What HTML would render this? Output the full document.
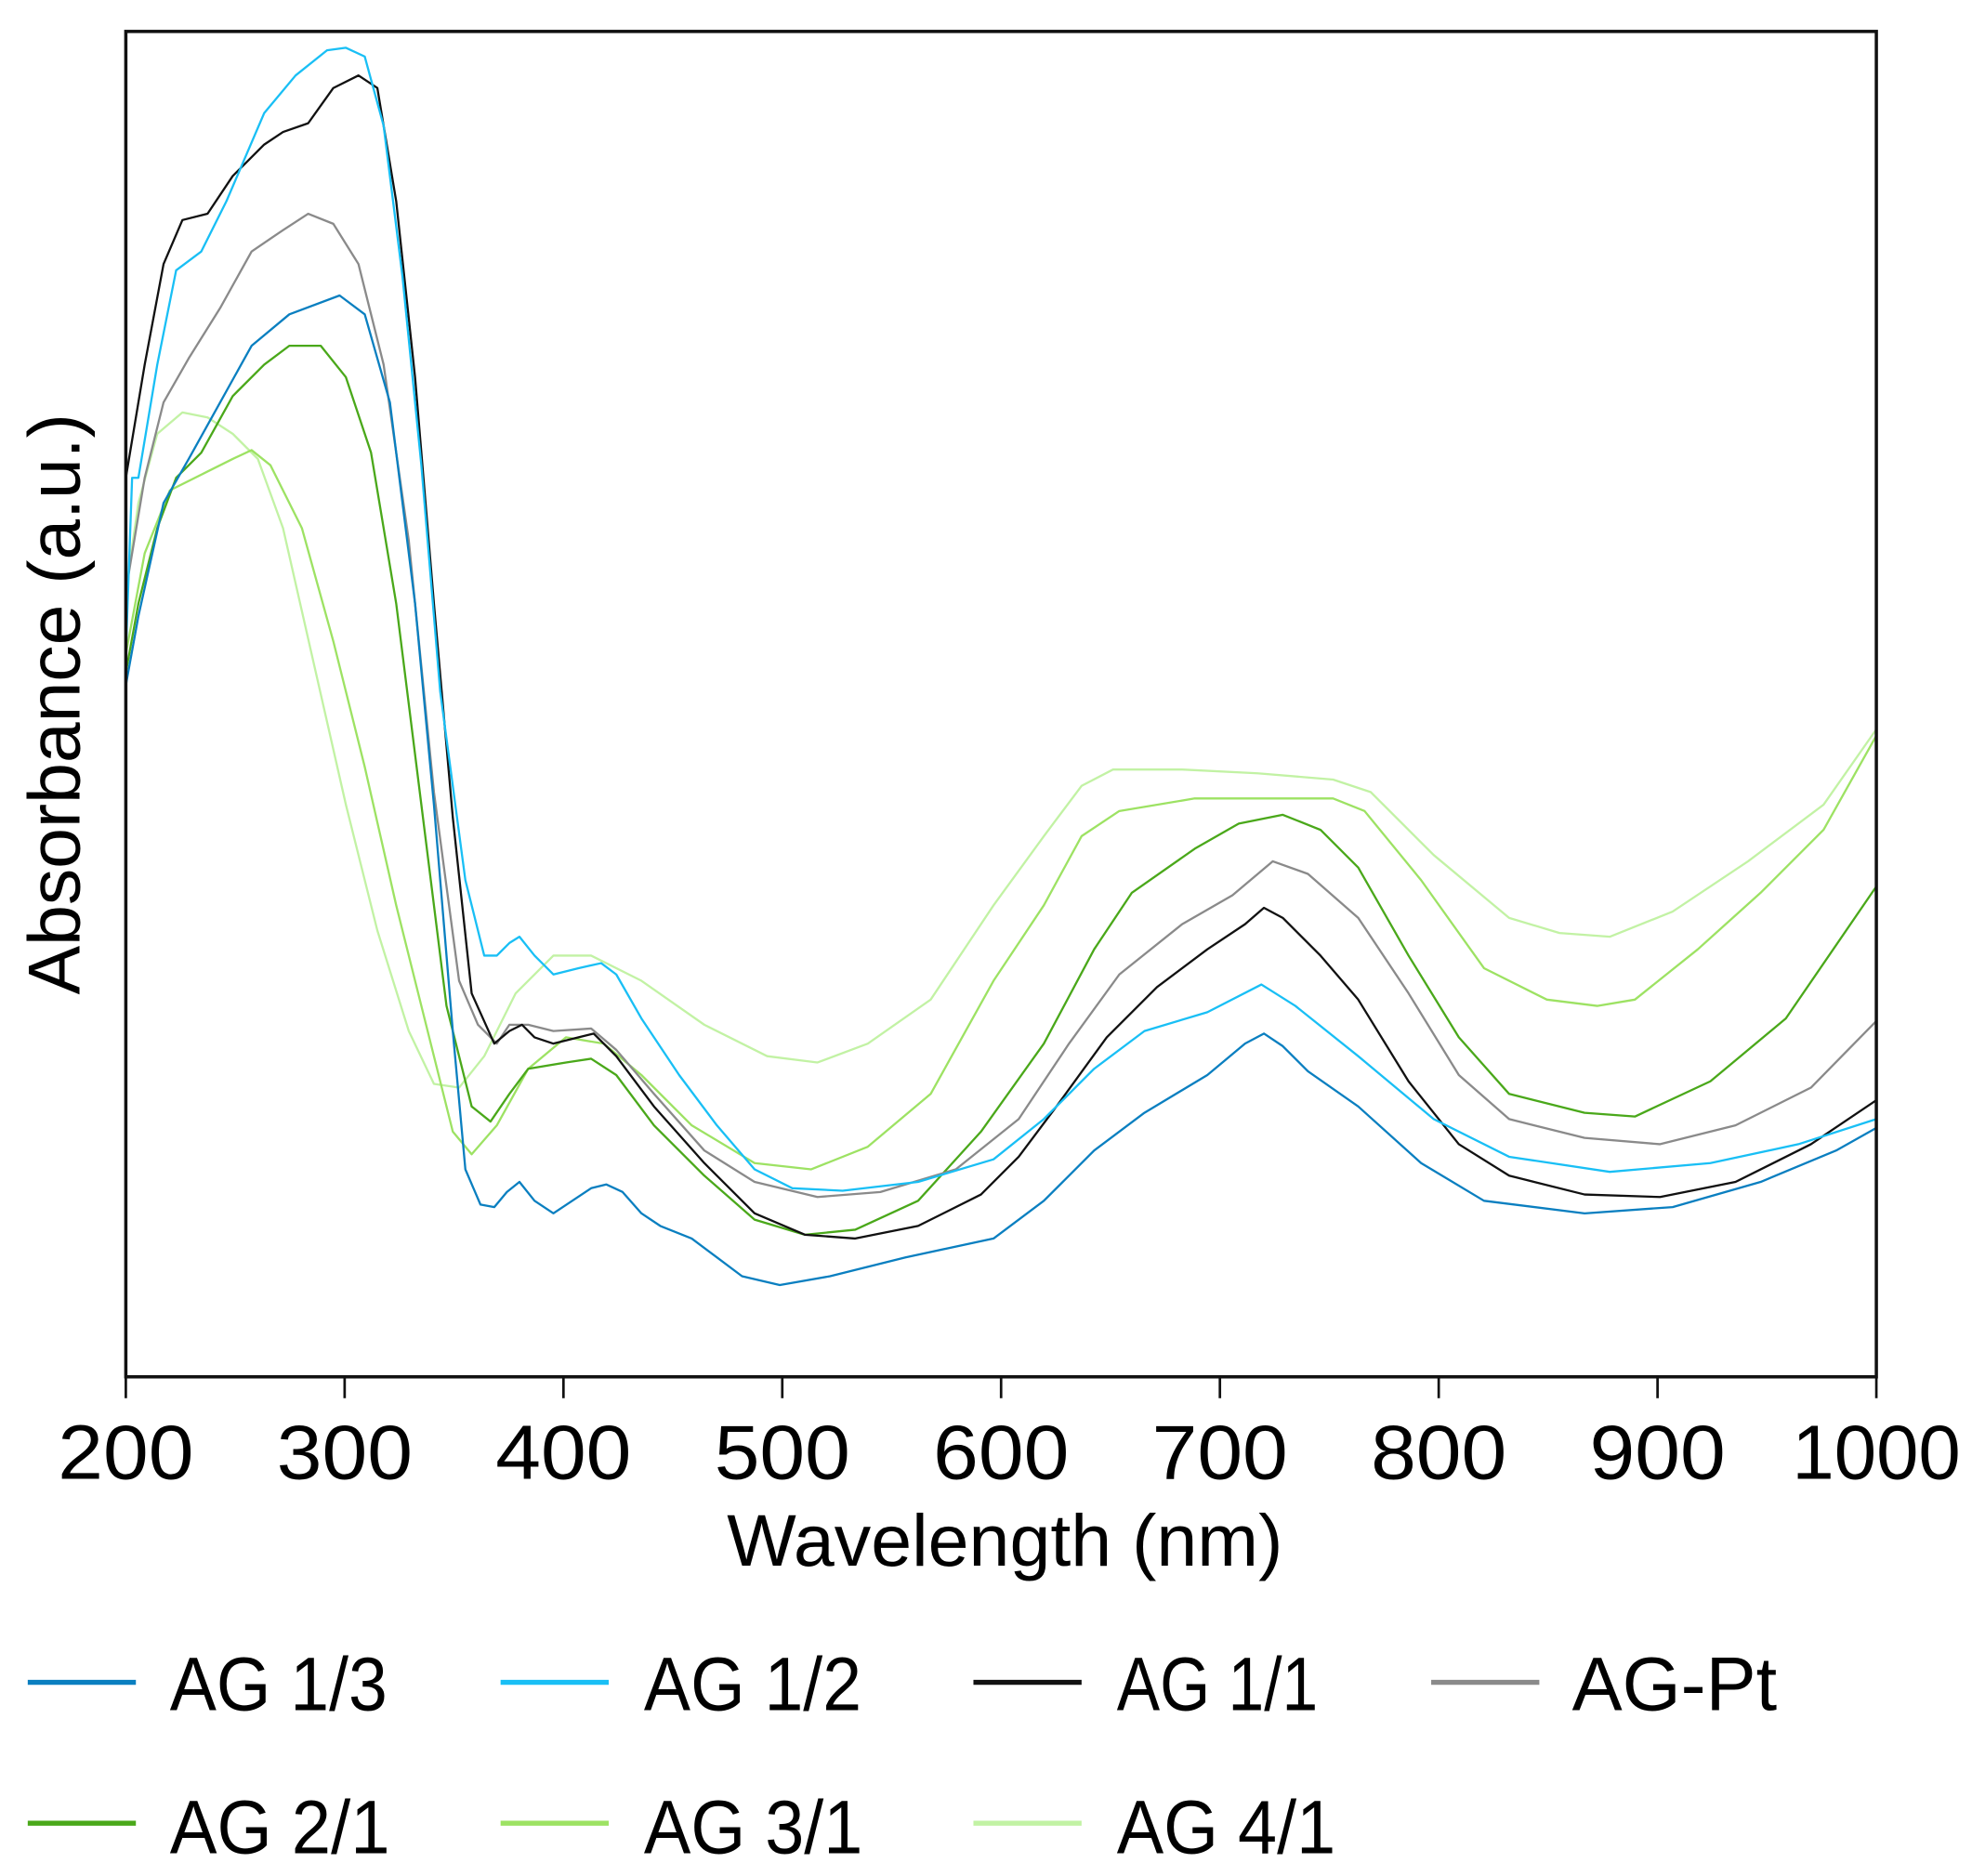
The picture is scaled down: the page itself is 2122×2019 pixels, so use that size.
<!DOCTYPE html>
<html><head><meta charset="utf-8"><style>
html,body{margin:0;padding:0;background:#fff;}
svg{display:block;}
text{font-family:"Liberation Sans",sans-serif;fill:#000;}
polyline{fill:none;stroke-width:1.7;stroke-linejoin:round;stroke-linecap:round;}
</style></head><body>
<svg width="2122" height="2019" viewBox="0 0 1568 1492" xmlns="http://www.w3.org/2000/svg">
<rect width="1568" height="1492" fill="#fff"/>
<polyline stroke="#c2f2a4" points="100,470 110,400 125,345 145,328 165,332 185,345 205,365 225,420 250,530 275,640 300,740 325,820 345,862 365,865 385,840 410,790 440,760 470,760 510,780 560,815 610,840 650,845 690,830 740,795 790,720 830,665 860,625 885,612 940,612 1000,615 1060,620 1090,630 1140,680 1200,730 1240,742 1280,745 1330,725 1390,685 1450,640 1492,580"/>
<polyline stroke="#9de263" points="100,520 115,440 135,390 165,375 185,365 200,358 215,370 240,420 265,510 290,610 315,720 340,820 360,900 375,918 395,895 420,850 450,825 480,830 510,855 550,895 600,925 645,930 690,912 740,870 790,780 830,720 860,665 890,645 950,635 1060,635 1085,645 1130,700 1180,770 1230,795 1270,800 1300,795 1350,755 1400,710 1450,660 1492,585"/>
<polyline stroke="#4aa81a" points="100,535 110,480 125,420 140,380 160,360 185,315 210,290 230,275 255,275 275,300 295,360 315,480 335,640 355,800 375,880 390,892 405,870 420,850 450,845 470,842 490,855 520,895 560,935 600,970 640,982 680,978 730,955 780,900 830,830 870,755 900,710 950,675 985,655 1020,648 1050,660 1080,690 1120,760 1160,825 1200,870 1260,885 1300,888 1360,860 1420,810 1492,705"/>
<polyline stroke="#8a8a8a" points="100,470 115,380 130,320 150,285 175,245 200,200 225,183 245,170 265,178 285,210 305,290 325,430 345,630 365,780 380,815 395,830 405,815 420,815 440,820 470,818 490,835 520,870 560,915 600,940 650,952 700,948 760,930 810,890 850,830 890,775 940,735 980,712 1012,685 1040,695 1080,730 1120,790 1160,855 1200,890 1260,905 1320,910 1380,895 1440,865 1492,812"/>
<polyline stroke="#111" points="100,380 115,290 130,210 145,175 165,170 185,140 210,115 225,105 245,98 265,70 285,60 300,70 315,160 330,300 345,480 360,650 375,790 393,830 405,820 415,815 425,825 440,830 460,825 472,822 490,840 520,880 560,925 600,965 640,982 680,985 730,975 780,950 810,920 840,880 880,825 920,785 960,755 990,735 1005,722 1020,730 1050,760 1080,795 1120,860 1160,910 1200,935 1260,950 1320,952 1380,940 1440,910 1492,875"/>
<polyline stroke="#19bff5" points="100,520 105,380 110,380 125,290 140,215 160,200 180,160 210,90 235,60 260,40 275,38 290,45 305,100 320,220 335,370 350,550 370,700 385,760 395,760 405,750 413,745 425,760 440,775 460,770 478,766 490,775 510,810 540,855 570,895 600,930 630,945 670,947 730,940 790,922 830,890 870,850 910,820 960,805 1003,783 1030,800 1080,840 1140,890 1200,920 1280,932 1360,925 1430,910 1492,890"/>
<polyline stroke="#0a7fc0" points="100,545 110,490 130,400 150,365 175,320 200,275 230,250 270,235 290,250 310,320 330,480 345,640 360,820 370,930 382,958 393,960 403,948 413,940 425,955 440,965 455,955 470,945 482,942 495,948 510,965 525,975 550,985 570,1000 590,1015 620,1022 660,1015 720,1000 790,985 830,955 870,915 910,885 960,855 990,830 1005,822 1020,832 1040,852 1080,880 1130,925 1180,955 1260,965 1330,960 1400,940 1460,915 1492,897"/>
<rect x="100" y="25" width="1392" height="1070" fill="none" stroke="#111" stroke-width="2.6"/>
<g stroke="#111" stroke-width="2">
<line x1="100" y1="1095" x2="100" y2="1112"/><line x1="274" y1="1095" x2="274" y2="1112"/><line x1="448" y1="1095" x2="448" y2="1112"/><line x1="622" y1="1095" x2="622" y2="1112"/><line x1="796" y1="1095" x2="796" y2="1112"/><line x1="970" y1="1095" x2="970" y2="1112"/><line x1="1144" y1="1095" x2="1144" y2="1112"/><line x1="1318" y1="1095" x2="1318" y2="1112"/><line x1="1492" y1="1095" x2="1492" y2="1112"/>
</g>
<g font-size="61" text-anchor="middle">
<text x="100" y="1176" textLength="108" lengthAdjust="spacingAndGlyphs">200</text><text x="274" y="1176" textLength="108" lengthAdjust="spacingAndGlyphs">300</text><text x="448" y="1176" textLength="108" lengthAdjust="spacingAndGlyphs">400</text><text x="622" y="1176" textLength="108" lengthAdjust="spacingAndGlyphs">500</text><text x="796" y="1176" textLength="108" lengthAdjust="spacingAndGlyphs">600</text><text x="970" y="1176" textLength="108" lengthAdjust="spacingAndGlyphs">700</text><text x="1144" y="1176" textLength="108" lengthAdjust="spacingAndGlyphs">800</text><text x="1318" y="1176" textLength="108" lengthAdjust="spacingAndGlyphs">900</text><text x="1492" y="1176" textLength="134" lengthAdjust="spacingAndGlyphs">1000</text>
</g>
<text x="799" y="1245" font-size="58" text-anchor="middle" textLength="442" lengthAdjust="spacingAndGlyphs">Wavelength (nm)</text>
<text transform="translate(63,560) rotate(-90)" font-size="58" text-anchor="middle" textLength="462" lengthAdjust="spacingAndGlyphs">Absorbance (a.u.)</text>
<g stroke-width="4">
<line x1="22" y1="1338" x2="108" y2="1338" stroke="#0a7fc0"/>
<line x1="398" y1="1338" x2="484" y2="1338" stroke="#19bff5"/>
<line x1="774" y1="1338" x2="860" y2="1338" stroke="#111"/>
<line x1="1138" y1="1338" x2="1224" y2="1338" stroke="#8a8a8a"/>
<line x1="22" y1="1450" x2="108" y2="1450" stroke="#4aa81a"/>
<line x1="398" y1="1450" x2="484" y2="1450" stroke="#9de263"/>
<line x1="774" y1="1450" x2="860" y2="1450" stroke="#c2f2a4"/>
</g>
<g font-size="60" lengthAdjust="spacingAndGlyphs">
<text x="135" y="1360" textLength="173" lengthAdjust="spacingAndGlyphs">AG 1/3</text>
<text x="512" y="1360" textLength="173" lengthAdjust="spacingAndGlyphs">AG 1/2</text>
<text x="888" y="1360" textLength="160" lengthAdjust="spacingAndGlyphs">AG 1/1</text>
<text x="1250" y="1360" textLength="163" lengthAdjust="spacingAndGlyphs">AG-Pt</text>
<text x="135" y="1474" textLength="175" lengthAdjust="spacingAndGlyphs">AG 2/1</text>
<text x="512" y="1474" textLength="174" lengthAdjust="spacingAndGlyphs">AG 3/1</text>
<text x="888" y="1474" textLength="174" lengthAdjust="spacingAndGlyphs">AG 4/1</text>
</g>
</svg>
</body></html>
